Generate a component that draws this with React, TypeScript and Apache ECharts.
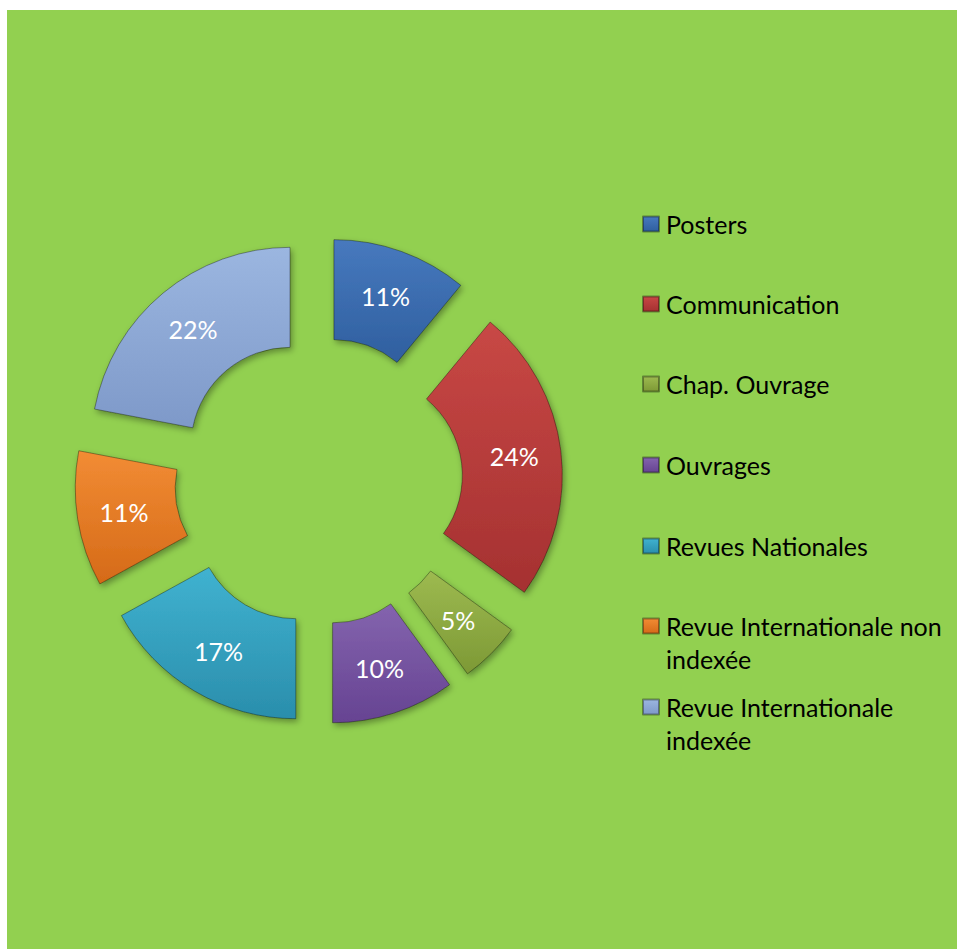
import React, { useEffect, useRef } from "react";
import * as echarts from "echarts";

const categories = [
  "Posters",
  "Communication",
  "Chap. Ouvrage",
  "Ouvrages",
  "Revues Nationales",
  "Revue Internationale non indexée",
  "Revue Internationale indexée",
];
const values = [11, 24, 5, 10, 17, 11, 22];
const legendLabels = [
  "Posters",
  "Communication",
  "Chap. Ouvrage",
  "Ouvrages",
  "Revues Nationales",
  "Revue Internationale non\nindexée",
  "Revue Internationale\nindexée",
];
const colorsLight = ["#4779BE", "#C84845", "#9DBA50", "#8464AE", "#40B2D0", "#F28C34", "#9BB6E0"];
const colorsDark = ["#2F5F9F", "#A53131", "#7D9935", "#664392", "#2A8EAC", "#D56A18", "#7E99C9"];

const FONT = "Lato, 'Open Sans', sans-serif";

export default function App() {
  const ref = useRef<HTMLDivElement>(null);
  useEffect(() => {
    if (!ref.current) return;
    const chart = echarts.init(ref.current, undefined, { renderer: "svg" });
    const legendCenters = [214, 294, 374, 455, 536, 616, 697];
    const legends = categories.map((name, i) => {
      const twoLine = legendLabels[i].includes("\n");
      return {
        orient: "vertical",
        left: 635,
        top: twoLine ? legendCenters[i] - 49.5 : legendCenters[i] - 16.5,
        padding: 0,
        itemWidth: 16,
        itemHeight: 15,
        selectedMode: false,
        icon: "rect",
        formatter: () => (twoLine ? "\n" + legendLabels[i] : legendLabels[i]),
        textStyle: {
          color: "#000",
          fontSize: 25,
          lineHeight: 33,
          fontFamily: FONT,
          padding: [0, 0, 0, 2],
        },
        data: [name],
      };
    });
    const grad = (i: number) =>
      new echarts.graphic.LinearGradient(0, 0, 0, 1, [
        { offset: 0, color: colorsLight[i] },
        { offset: 1, color: colorsDark[i] },
      ]);
    chart.setOption({
      animation: false,
      backgroundColor: "#92D050",
      legend: legends,
      series: [
        {
          type: "pie",
          center: [311.7, 471],
          radius: [99, 199],
          startAngle: 90,
          clockwise: true,
          selectedMode: "multiple",
          selectedOffset: 45,
          emphasis: { disabled: true },
          label: {
            show: true,
            position: "inside",
            formatter: (p: any) => p.value + "%",
            color: "#fff",
            fontSize: 25,
            fontFamily: FONT,
          },
          labelLine: { show: false },
          itemStyle: {
            borderColor: "rgba(0,0,0,0.35)",
            borderWidth: 1,
            shadowBlur: 6,
            shadowColor: "rgba(0,0,0,0.35)",
            shadowOffsetX: 2,
            shadowOffsetY: 3,
          },
          select: {
            itemStyle: {
              borderColor: "rgba(0,0,0,0.35)",
              borderWidth: 1,
            },
          },
          data: categories.map((name, i) => ({
            name,
            value: values[i],
            selected: true,
            itemStyle: { color: grad(i) },
          })),
        },
      ],
    });
    return () => chart.dispose();
  }, []);
  return (
    <div
      ref={ref}
      style={{ position: "absolute", left: 7, top: 10, width: 950, height: 939 }}
    />
  );
}
